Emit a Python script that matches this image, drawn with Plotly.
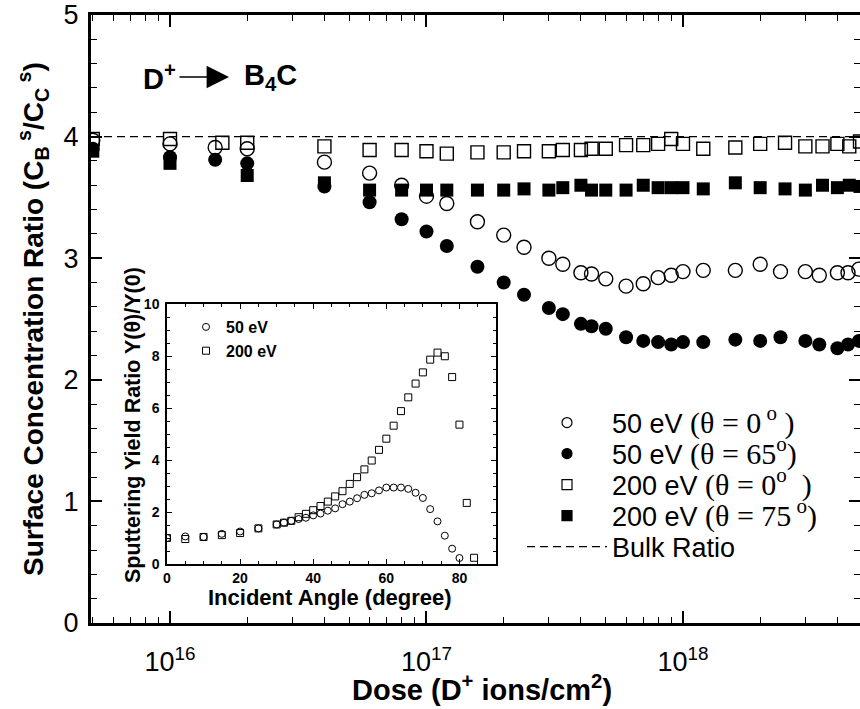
import math
import plotly.graph_objects as go

# ---------------- main chart data ----------------
DOSE_50 = [5e15, 1e16, 1.5e16, 2e16, 4e16, 6e16, 8e16, 1e17, 1.2e17, 1.58e17, 2e17, 2.4e17,
           3e17, 3.4e17, 4e17, 4.4e17, 5e17, 6e17, 7e17, 8e17, 9e17, 1e18, 1.2e18, 1.6e18,
           2e18, 2.4e18, 3e18, 3.4e18, 4e18, 4.4e18, 4.85e18]
RATIO_50_THETA0 = [3.97, 3.94, 3.91, 3.90, 3.79, 3.70, 3.60, 3.51, 3.45, 3.30, 3.19, 3.09,
                   3.00, 2.95, 2.88, 2.87, 2.83, 2.77, 2.79, 2.84, 2.86, 2.89, 2.90, 2.90,
                   2.95, 2.89, 2.89, 2.86, 2.88, 2.88, 2.91]
RATIO_50_THETA65 = [3.90, 3.83, 3.81, 3.78, 3.59, 3.46, 3.32, 3.22, 3.10, 2.93, 2.80, 2.70,
                    2.59, 2.54, 2.46, 2.44, 2.42, 2.35, 2.32, 2.31, 2.29, 2.31, 2.31, 2.33,
                    2.32, 2.35, 2.32, 2.29, 2.26, 2.29, 2.32]

DOSE_200_THETA0 = [5e15, 1e16, 1.6e16, 2e16, 4e16, 6e16, 8e16, 1e17, 1.2e17, 1.58e17, 2e17,
                   2.4e17, 3e17, 3.4e17, 4e17, 4.4e17, 5e17, 6e17, 7e17, 8e17, 9e17, 1e18,
                   1.2e18, 1.6e18, 2e18, 2.5e18, 3e18, 3.5e18, 4e18, 4.45e18, 4.9e18]
RATIO_200_THETA0 = [3.98, 3.98, 3.95, 3.95, 3.92, 3.89, 3.89, 3.88, 3.86, 3.87, 3.87,
                    3.88, 3.88, 3.89, 3.89, 3.90, 3.90, 3.93, 3.93, 3.94, 3.98, 3.94,
                    3.90, 3.91, 3.94, 3.95, 3.92, 3.92, 3.94, 3.92, 3.96]

DOSE_200_THETA75 = [5e15, 1e16, 2e16, 4e16, 6e16, 8e16, 1e17, 1.2e17, 1.58e17, 2e17, 2.4e17,
                    3e17, 3.4e17, 4e17, 4.4e17, 5e17, 6e17, 7e17, 8e17, 9e17, 1e18, 1.2e18,
                    1.6e18, 2e18, 2.5e18, 3e18, 3.5e18, 4e18, 4.45e18, 4.9e18]
RATIO_200_THETA75 = [3.88, 3.78, 3.68, 3.62, 3.56, 3.56, 3.56, 3.56, 3.56, 3.56, 3.57,
                     3.56, 3.58, 3.60, 3.56, 3.56, 3.56, 3.60, 3.58, 3.58, 3.58, 3.57,
                     3.62, 3.58, 3.57, 3.56, 3.60, 3.58, 3.60, 3.59]

BULK_RATIO = 4.0
DOSE_RANGE = [4.92e15, 4.9e18]
Y_RANGE = [0, 5]
DOSE_TICKS = [1e16, 1e17, 1e18]
DOSE_TICK_TEXT = ["10<sup>16</sup>", "10<sup>17</sup>", "10<sup>18</sup>"]

# ---------------- inset data ----------------
ANGLE_200 = [0, 5, 10, 15, 20, 25, 30, 32, 34, 36, 38, 40, 42, 44, 46, 48, 50, 52, 54, 56,
             58, 60, 62, 64, 66, 68, 70, 72, 74, 76, 78, 80, 82, 84]
YIELD_200 = [1.00, 0.96, 1.04, 1.11, 1.19, 1.37, 1.52, 1.59, 1.66, 1.80, 1.93, 2.07, 2.23,
             2.40, 2.60, 2.80, 3.08, 3.34, 3.64, 3.98, 4.39, 4.82, 5.32, 5.88, 6.41, 6.94,
             7.37, 7.86, 8.13, 7.99, 7.19, 5.36, 2.35, 0.24]
ANGLE_50 = [0, 5, 10, 15, 20, 25, 30, 32, 34, 36, 38, 40, 42, 44, 46, 48, 50, 52, 54, 56,
            58, 60, 62, 64, 66, 68, 70, 72, 74, 76, 78, 80]
YIELD_50 = [1.00, 1.06, 1.04, 1.16, 1.25, 1.37, 1.52, 1.59, 1.66, 1.73, 1.78, 1.87, 1.94,
            2.05, 2.14, 2.30, 2.40, 2.53, 2.66, 2.72, 2.83, 2.94, 2.94, 2.94, 2.89, 2.74,
            2.54, 2.11, 1.64, 1.09, 0.59, 0.23]
ANGLE_RANGE = [0, 90]
YIELD_RANGE = [0, 10]

# ---------------- layout helpers ----------------
W, H = 860, 709
ML, MR, MT, MB = 91, 0, 15, 86
PW, PH = W - ML - MR, H - MT - MB


def px(x):
    return (x - ML) / PW


def py(y):
    return (H - MB - y) / PH


SANS = "Liberation Sans, Arial, Helvetica, sans-serif"
NARROW = "Liberation Sans Narrow, Arial Narrow, Liberation Sans, sans-serif"

fig = go.Figure()

mk_open = dict(color="black", width=1.4)

# open squares
fig.add_trace(go.Scatter(x=DOSE_200_THETA0, y=RATIO_200_THETA0, mode="markers",
                         marker=dict(symbol="square-open", size=13, color="black", line=mk_open),
                         showlegend=False))
# open circles
fig.add_trace(go.Scatter(x=DOSE_50, y=RATIO_50_THETA0, mode="markers",
                         marker=dict(symbol="circle-open", size=14, color="black", line=mk_open),
                         showlegend=False))
# filled squares
fig.add_trace(go.Scatter(x=DOSE_200_THETA75, y=RATIO_200_THETA75, mode="markers",
                         marker=dict(symbol="square", size=13, color="black"),
                         showlegend=False))
# filled circles
fig.add_trace(go.Scatter(x=DOSE_50, y=RATIO_50_THETA65, mode="markers",
                         marker=dict(symbol="circle", size=14, color="black"),
                         showlegend=False))
# bulk ratio
fig.add_trace(go.Scatter(x=DOSE_RANGE, y=[BULK_RATIO, BULK_RATIO], mode="lines",
                         line=dict(color="black", width=1.3, dash="8px,5px"),
                         name="Bulk Ratio", legend="legend5", showlegend=True))

# legend-only entries (symbols at legend size)
serif_span = '<span style="font-family:Liberation Serif, Times New Roman, serif; font-size:30px">{}</span>'
legend_items = [
    ("circle-open", "50 eV " + serif_span.format("(θ = 0<sup> o</sup> )"), "legend"),
    ("circle", "50 eV " + serif_span.format("(θ = 65<sup>o</sup>)"), "legend2"),
    ("square-open", "200 eV " + serif_span.format("(θ = 0<sup>o</sup>  )"), "legend3"),
    ("square", "200 eV " + serif_span.format("(θ = 75<sup> o</sup>)"), "legend4"),
]
for sym, name, lg in legend_items:
    fig.add_trace(go.Scatter(x=[None], y=[None], mode="markers", name=name, legend=lg,
                             marker=dict(symbol=sym, size=10, color="black",
                                         line=dict(color="black", width=1.2))))

# inset traces
fig.add_trace(go.Scatter(x=ANGLE_50, y=YIELD_50, mode="markers", xaxis="x2", yaxis="y2",
                         marker=dict(symbol="circle-open", size=7, color="black",
                                     line=dict(color="black", width=1)),
                         name="50 eV", legend="legend6"))
fig.add_trace(go.Scatter(x=ANGLE_200, y=YIELD_200, mode="markers", xaxis="x2", yaxis="y2",
                         marker=dict(symbol="square-open", size=7, color="black",
                                     line=dict(color="black", width=1)),
                         name="200 eV", legend="legend6"))

main_legend_y = [423, 454, 485, 516, 547]
legend_common = dict(x=px(522), xanchor="left", yanchor="middle", bgcolor="rgba(0,0,0,0)",
                     borderwidth=0, itemwidth=80, font=dict(family=SANS, size=27, color="black"),
                     itemclick=False, itemdoubleclick=False)

layout_legends = {}
names = ["legend", "legend2", "legend3", "legend4", "legend5"]
for nm, yy in zip(names, main_legend_y):
    d = dict(legend_common)
    d["y"] = py(yy)
    layout_legends[nm] = d

layout_legends["legend6"] = dict(x=px(186), y=py(310), xanchor="left", yanchor="top",
                                 bgcolor="rgba(0,0,0,0)", borderwidth=0, itemwidth=30,
                                 font=dict(family=SANS, size=16, color="black", weight="bold"))

minor_dose = []
for dec in [15, 16, 17, 18]:
    for k in range(2, 10):
        v = k * 10 ** dec
        if DOSE_RANGE[0] <= v <= DOSE_RANGE[1]:
            minor_dose.append(v)

fig.update_layout(
    width=W, height=H, template="none",
    margin=dict(l=ML, r=MR, t=MT, b=MB, pad=0),
    paper_bgcolor="white", plot_bgcolor="white",
    xaxis=dict(type="log", range=[math.log10(DOSE_RANGE[0]), math.log10(DOSE_RANGE[1])],
               showline=True, linewidth=3, linecolor="black", mirror="ticks",
               ticks="inside", ticklen=12, tickwidth=1.5, tickcolor="black",
               tickmode="array", tickvals=DOSE_TICKS, ticktext=DOSE_TICK_TEXT,
               tickfont=dict(family=NARROW, size=27, color="black"), ticklabelstandoff=13,
               minor=dict(ticks="inside", ticklen=6, tickwidth=1.3, tickcolor="black",
                          tickmode="array", tickvals=minor_dose, showgrid=False),
               showgrid=False, zeroline=False, automargin=False, domain=[0, 1], anchor="y"),
    yaxis=dict(range=Y_RANGE, showline=True, linewidth=3, linecolor="black", mirror="ticks",
               ticks="inside", ticklen=11, tickwidth=1.5, tickcolor="black", dtick=1, tick0=0,
               tickfont=dict(family=NARROW, size=27, color="black"), ticklabelstandoff=4,
               minor=dict(ticks="inside", ticklen=6, tickwidth=1.3, tickcolor="black", dtick=0.2,
                          showgrid=False),
               showgrid=False, zeroline=False, automargin=False, domain=[0, 1], anchor="x"),
    xaxis2=dict(range=ANGLE_RANGE, domain=[px(167), px(496)], anchor="y2",
                showline=True, linewidth=1.5, linecolor="black", mirror="ticks",
                ticks="inside", ticklen=5, tickwidth=1, tickcolor="black", dtick=20, tick0=0,
                tickfont=dict(family=SANS, size=14, color="black", weight="bold"),
                ticklabelstandoff=0,
                minor=dict(ticks="inside", ticklen=3.5, tickwidth=1, tickcolor="black", dtick=5,
                           showgrid=False),
                showgrid=False, zeroline=False, automargin=False),
    yaxis2=dict(range=YIELD_RANGE, domain=[py(564), py(304)], anchor="x2",
                showline=True, linewidth=1.5, linecolor="black", mirror="ticks",
                ticks="inside", ticklen=5, tickwidth=1, tickcolor="black", dtick=2, tick0=0,
                tickfont=dict(family=SANS, size=14, color="black", weight="bold"),
                ticklabelstandoff=3,
                minor=dict(ticks="inside", ticklen=3.5, tickwidth=1, tickcolor="black", dtick=0.5,
                           showgrid=False),
                showgrid=False, zeroline=False, automargin=False),
    **layout_legends,
)

ann = []
# axis titles
ann.append(dict(x=px(482), y=py(688), xref="paper", yref="paper", showarrow=False,
                text="<b>Dose (D<sup>+</sup> ions/cm<sup>2</sup>)</b>",
                font=dict(family=SANS, size=29, color="black"),
                xanchor="center", yanchor="middle"))
ann.append(dict(x=px(33), y=py(319), xref="paper", yref="paper", showarrow=False,
                text="<b>Surface Concentration Ratio (C<sub>B</sub><sup> s</sup>/C<sub>C</sub><sup> s</sup>)</b>",
                font=dict(family=SANS, size=28, color="black"), textangle=-90,
                xanchor="center", yanchor="middle"))
# inset titles
ann.append(dict(x=px(330), y=py(597), xref="paper", yref="paper", showarrow=False,
                text="<b>Incident Angle (degree)</b>",
                font=dict(family=SANS, size=22, color="black"),
                xanchor="center", yanchor="middle"))
ann.append(dict(x=px(133), y=py(425), xref="paper", yref="paper", showarrow=False,
                text="<b>Sputtering Yield Ratio Y(θ)/Y(0)</b>",
                font=dict(family=SANS, size=21.5, color="black"), textangle=-90,
                xanchor="center", yanchor="middle"))
# D+ -> B4C label
ann.append(dict(x=px(141), y=py(77), xref="paper", yref="paper", showarrow=False,
                text="<b>D<sup>+</sup></b>", font=dict(family=SANS, size=29, color="black"),
                xanchor="left", yanchor="middle"))
ann.append(dict(x=px(229), y=py(77), xref="paper", yref="paper", showarrow=True, text="",
                ax=-51, ay=0, arrowhead=2, arrowsize=2.8, arrowwidth=1.6, arrowcolor="black",
                standoff=0, startstandoff=0))
ann.append(dict(x=px(242), y=py(77), xref="paper", yref="paper", showarrow=False,
                text="<b>B<sub>4</sub>C</b>", font=dict(family=SANS, size=29, color="black"),
                xanchor="left", yanchor="middle"))

fig.update_layout(annotations=ann)

fig.write_html("out.html", config={"displayModeBar": False},
               post_script="document.body.style.margin='0';document.body.style.overflow='hidden';")
